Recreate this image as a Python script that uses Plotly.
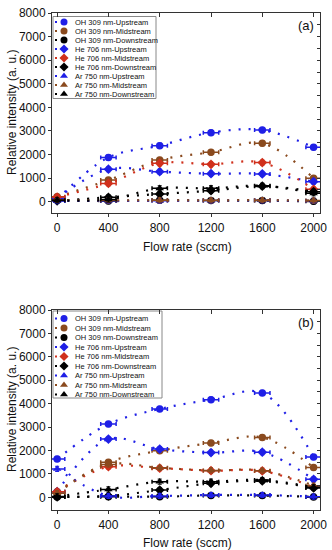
import plotly.graph_objects as go

# ---------------- data ----------------
flow = [0, 400, 800, 1200, 1600, 2000]
x_ticks = [0, 400, 800, 1200, 1600, 2000]
y_ticks = [0, 1000, 2000, 3000, 4000, 5000, 6000, 7000, 8000]

series_names = [
    "OH 309 nm-Upstream", "OH 309 nm-Midstream", "OH 309 nm-Downstream",
    "He 706 nm-Upstream", "He 706 nm-Midstream", "He 706 nm-Downstream",
    "Ar 750 nm-Upstream", "Ar 750 nm-Midstream", "Ar 750 nm-Downstream",
]

# panel (a)
oh_up_a = [100, 1880, 2380, 2930, 3040, 2310]
oh_mid_a = [210, 920, 1770, 2100, 2480, 1000]
oh_down_a = [60, 30, 60, 50, 50, 20]
he_up_a = [150, 1380, 1275, 1190, 1180, 850]
he_mid_a = [200, 780, 1630, 1590, 1660, 530]
he_down_a = [40, 190, 330, 470, 660, 430]
ar_up_a = [30, 40, 40, 50, 60, 40]
ar_mid_a = [80, 60, 60, 60, 70, 50]
ar_down_a = [60, 100, 570, 570, 680, 360]

# panel (b)
oh_up_b = [1640, 3130, 3775, 4170, 4460, 1720]
oh_mid_b = [240, 1500, 1990, 2320, 2560, 1270]
oh_down_b = [20, 30, 30, 80, 80, 20]
he_up_b = [240, 2490, 2060, 1910, 1930, 770]
he_mid_b = [240, 1310, 1245, 1140, 1130, 430]
he_down_b = [20, 60, 310, 600, 700, 400]
ar_up_b = [1215, 60, 60, 100, 100, 30]
ar_mid_b = [180, 1400, 1260, 1150, 1140, 500]
ar_down_b = [40, 340, 670, 670, 740, 430]

panel_a = [oh_up_a, oh_mid_a, oh_down_a, he_up_a, he_mid_a, he_down_a, ar_up_a, ar_mid_a, ar_down_a]
panel_b = [oh_up_b, oh_mid_b, oh_down_b, he_up_b, he_mid_b, he_down_b, ar_up_b, ar_mid_b, ar_down_b]

# ---------------- styles ----------------
BLUE = "#1f1fe6"
BROWN = "#8a4a1e"
RED = "#d0301c"
BLACK = "#000000"
colors = [BLUE, BROWN, BLACK, BLUE, RED, BLACK, BLUE, BROWN, BLACK]
symbols = ["circle", "circle", "circle", "diamond", "diamond", "diamond",
           "triangle-up", "triangle-up", "triangle-up"]
FONT = "Arial, Liberation Sans, sans-serif"
AX = "#333333"

W, H = 332, 550
ML, MR, MT, MB = 52, 12, 13, 40
plot_h = H - MT - MB
a_top, a_bot = 13, 213
b_top, b_bot = 310, 510
dom_a = [(MT + plot_h - a_bot) / plot_h, (MT + plot_h - a_top) / plot_h]
dom_b = [(MT + plot_h - b_bot) / plot_h, (MT + plot_h - b_top) / plot_h]

fig = go.Figure()

def add_panel(data, xa, ya):
    for i, vals in enumerate(data):
        fig.add_trace(go.Scatter(
            x=flow, y=vals, xaxis=xa, yaxis=ya,
            mode="lines+markers", showlegend=False, name=series_names[i],
            line=dict(color=colors[i], width=2.2, dash="2px,8px", shape="spline", smoothing=1.0),
            marker=dict(color=colors[i], symbol=symbols[i], size=7.5),
            error_x=dict(type="constant", value=60, color=colors[i], thickness=1.5, width=2),
            error_y=dict(type="constant", value=110, color=colors[i], thickness=1, width=2),
        ))

add_panel(panel_a, "x", "y")
add_panel(panel_b, "x2", "y2")

for xa, ya in [("x3", "y3"), ("x4", "y4")]:
    fig.add_trace(go.Scatter(x=[None], y=[None], xaxis=xa, yaxis=ya,
                             showlegend=False, hoverinfo="skip"))

# ---------------- legends (manual, compact) ----------------
leg_cfg = [
    dict(top=16.5, bottom=98.5, left=53, right=156, first=22.0, step=9.0),
    dict(top=311, bottom=398, left=53, right=162, first=318.5, step=9.5),
]
shapes = []
annotations = []
for cfg in leg_cfg:
    shapes.append(dict(type="rect", xref="paper", yref="paper",
                       x0=(cfg["left"] - ML) / (W - ML - MR), x1=(cfg["right"] - ML) / (W - ML - MR),
                       y0=(MT + plot_h - cfg["bottom"]) / plot_h, y1=(MT + plot_h - cfg["top"]) / plot_h,
                       line=dict(color="#888888", width=1), fillcolor="white", layer="below"))
    for i, nm in enumerate(series_names):
        ypix = cfg["first"] + cfg["step"] * i
        fig.add_trace(go.Scatter(
            x=[55, 60], y=[ypix, ypix], xaxis="x5", yaxis="y5", mode="lines",
            line=dict(color=colors[i], width=2, dash="2px,3px"),
            showlegend=False, hoverinfo="skip"))
        fig.add_trace(go.Scatter(
            x=[64], y=[ypix], xaxis="x5", yaxis="y5", mode="markers",
            marker=dict(color=colors[i], symbol=symbols[i], size=7),
            showlegend=False, hoverinfo="skip"))
        annotations.append(dict(
            xref="x5", yref="y5", x=73, y=ypix, text=nm, showarrow=False,
            xanchor="left", yanchor="middle", font=dict(size=7.5, color="#111", family=FONT)))

for lab, ypix in [("(a)", 25), ("(b)", 322)]:
    annotations.append(dict(xref="x5", yref="y5", x=306, y=ypix, text=lab, showarrow=False,
                            xanchor="center", yanchor="middle",
                            font=dict(size=13, color="#111", family=FONT)))

for yc, xt in [((a_top + a_bot) / 2, 247), ((b_top + b_bot) / 2, 543)]:
    annotations.append(dict(xref="paper", yref="paper", x=0, xshift=12 - ML,
                            y=(MT + plot_h - yc) / plot_h, text="Relative intensity (a. u.)",
                            textangle=-90, showarrow=False, xanchor="center", yanchor="middle",
                            font=dict(size=12, color="#111", family=FONT)))
    annotations.append(dict(xref="paper", yref="paper", x=(187 - ML) / (W - ML - MR),
                            y=(MT + plot_h - xt) / plot_h, text="Flow rate (sccm)",
                            showarrow=False, xanchor="center", yanchor="middle",
                            font=dict(size=12, color="#111", family=FONT)))

xr = [-40, 2050]
ya_r = [-475, 8000]
yb_r = [-540, 8000]

def main_x(anchor):
    return dict(range=xr, tickvals=x_ticks, ticks="outside", ticklen=3, tickcolor=AX,
                ticklabelstandoff=1,
                showline=True, linecolor=AX, linewidth=1, showgrid=False, zeroline=False,
                automargin=False, anchor=anchor, domain=[0, 1],
                tickfont=dict(size=12, family=FONT, color="#111"))

def main_y(dom, rng, anchor):
    return dict(range=rng, tickvals=y_ticks, ticks="outside", ticklen=3, tickcolor=AX,
                showline=True, linecolor=AX, linewidth=1, showgrid=False, zeroline=False,
                automargin=False, anchor=anchor, domain=dom,
                tickfont=dict(size=12, family=FONT, color="#111"))

def top_x(over, anchor):
    return dict(range=xr, overlaying=over, side="top", anchor=anchor, dtick=400, tick0=0,
                ticks="inside", ticklen=4, tickcolor=AX, showticklabels=False, automargin=False,
                showline=True, linecolor=AX, linewidth=1, showgrid=False, zeroline=False)

def right_y(over, rng, anchor):
    return dict(range=rng, overlaying=over, side="right", anchor=anchor, dtick=500, tick0=0,
                ticks="inside", ticklen=3, tickcolor=AX, showticklabels=False, automargin=False,
                showline=True, linecolor=AX, linewidth=1, showgrid=False, zeroline=False)

fig.update_layout(
    template="none",
    width=W, height=H,
    margin=dict(l=ML, r=MR, t=MT, b=MB, pad=0),
    paper_bgcolor="white", plot_bgcolor="rgba(0,0,0,0)",
    showlegend=False,
    font=dict(family=FONT, color="#111"),
    xaxis=main_x("y"), yaxis=main_y(dom_a, ya_r, "x"),
    xaxis2=main_x("y2"), yaxis2=main_y(dom_b, yb_r, "x2"),
    xaxis3=top_x("x", "y"), yaxis3=right_y("y", ya_r, "x"),
    xaxis4=top_x("x2", "y2"), yaxis4=right_y("y2", yb_r, "x2"),
    xaxis5=dict(range=[ML, W - MR], domain=[0, 1], visible=False, fixedrange=True, automargin=False),
    yaxis5=dict(range=[MT + plot_h, MT], domain=[0, 1], visible=False, fixedrange=True, automargin=False),
    shapes=shapes, annotations=annotations,
)

fig.write_html("out.html", config={"displayModeBar": False},
               post_script="document.body.style.margin='0';document.body.style.overflow='hidden';")
